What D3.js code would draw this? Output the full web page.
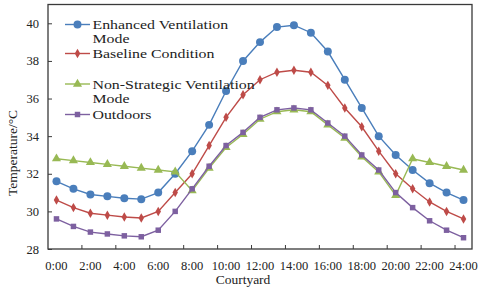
<!DOCTYPE html>
<html><head><meta charset="utf-8">
<script src="https://cdn.jsdelivr.net/npm/d3@7"></script>
<style>body{margin:0;background:#fff}svg{display:block}</style>
</head><body><svg id="c" width="480" height="289"></svg>
<script>
const hours = ["0:00","1:00","2:00","3:00","4:00","5:00","6:00","7:00","8:00","9:00","10:00","11:00","12:00","13:00","14:00","15:00","16:00","17:00","18:00","19:00","20:00","21:00","22:00","23:00","24:00"];
const enhanced = [31.6,31.2,30.9,30.8,30.7,30.65,31.0,32.0,33.2,34.6,36.4,38.0,39.0,39.8,39.9,39.5,38.5,37.0,35.5,34.0,33.0,32.2,31.5,31.0,30.6];
const baseline = [30.6,30.2,29.9,29.8,29.7,29.65,30.0,31.0,32.0,33.5,35.0,36.2,37.0,37.4,37.5,37.4,36.7,35.5,34.5,33.2,32.0,31.2,30.5,30.0,29.6];
const nonStrategic = [32.8,32.7,32.6,32.5,32.4,32.3,32.2,32.1,31.1,32.3,33.4,34.1,34.9,35.3,35.4,35.3,34.6,33.9,32.9,32.1,30.85,32.8,32.6,32.4,32.2];
const outdoors = [29.6,29.2,28.9,28.8,28.7,28.65,29.0,30.0,31.2,32.4,33.5,34.2,35.0,35.4,35.5,35.4,34.7,34.0,33.0,32.2,31.0,30.2,29.5,29.0,28.6];
const yTicks = [28,30,32,34,36,38,40];
const seriesNames = ["Enhanced Ventilation|Mode","Baseline Condition","Non-Strategic Ventilation|Mode","Outdoors"];

const L=48,R=472,T=4.5,B=249;
const svg=d3.select("#c");
const font="Liberation Serif, Times New Roman, serif";
const x=d3.scaleBand().domain(hours).range([L,R]).padding(0);
const y=d3.scaleLinear().domain([28,41]).range([B,T]);
const cx=h=>x(h)+x.bandwidth()/2;

// frame
svg.append("rect").attr("x",L).attr("y",T).attr("width",R-L).attr("height",B-T)
  .attr("fill","none").attr("stroke","#3a3a3a").attr("stroke-width",1.3);

// y axis
const gy=svg.append("g").attr("transform",`translate(${L},0)`)
  .call(d3.axisLeft(y).tickValues(yTicks).tickSizeInner(-4).tickSizeOuter(0).tickPadding(9).tickFormat(d3.format("d")));
gy.select(".domain").remove();
gy.selectAll("line").attr("stroke","#3a3a3a").attr("stroke-width",1);
gy.selectAll("text").attr("font-family",font).attr("font-size",12.5).attr("fill","#222");

// x axis labels
const labelHours=hours.filter((d,i)=>i%2===0);
const gx=svg.append("g").attr("transform",`translate(0,${B})`)
  .call(d3.axisBottom(x).tickValues(labelHours).tickSize(0).tickPadding(12));
gx.select(".domain").remove();
gx.selectAll("text").attr("font-family",font).attr("font-size",12.5).attr("fill","#222");
// x tick marks at band boundaries (inward)
svg.append("g").selectAll("line").data(labelHours.slice(1)).join("line")
  .attr("x1",d=>x(d)).attr("x2",d=>x(d)).attr("y1",B).attr("y2",B-4)
  .attr("stroke","#3a3a3a").attr("stroke-width",1);

// axis titles
svg.append("text").attr("x",243).attr("y",284).attr("text-anchor","middle")
  .attr("font-family",font).attr("font-size",13.5).attr("fill","#222").text("Courtyard");
svg.append("text").attr("transform","translate(17,153) rotate(-90)").attr("text-anchor","middle")
  .attr("font-family",font).attr("font-size",13.5).attr("fill","#222").text("Temperature/°C");

const colors=["#4a7ebb","#be4b48","#98b954","#7d60a0"];
const data=[enhanced,baseline,nonStrategic,outdoors];
const shapes=[d3.symbolCircle,d3.symbolDiamond,d3.symbolTriangle,d3.symbolSquare];
const sizes=[50,26,36,30];
const line=d3.line().x((d,i)=>cx(hours[i])).y(d=>y(d));

data.forEach((vals,k)=>{
  const g=svg.append("g");
  g.append("path").attr("d",line(vals)).attr("fill","none").attr("stroke",colors[k]).attr("stroke-width",1.4);
  g.selectAll("path.m").data(vals).join("path").attr("class","m")
    .attr("transform",(d,i)=>`translate(${cx(hours[i])},${y(d)})`)
    .attr("d",d3.symbol().type(shapes[k]).size(sizes[k])).attr("fill",colors[k]);
});

// legend
const legY=[24.5,53.5,84,114.5];
seriesNames.forEach((name,k)=>{
  const g=svg.append("g");
  g.append("line").attr("x1",65).attr("x2",90).attr("y1",legY[k]).attr("y2",legY[k]).attr("stroke",colors[k]).attr("stroke-width",1.4);
  g.append("path").attr("transform",`translate(77.5,${legY[k]})`).attr("d",d3.symbol().type(shapes[k]).size(sizes[k])).attr("fill",colors[k]);
  name.split("|").forEach((ln,j)=>{
    g.append("text").attr("transform",`translate(92.5,${legY[k]+4.5+j*14}) scale(1.27,1)`)
      .attr("font-family",font).attr("font-size",12.5).attr("fill","#222").text(ln);
  });
});
</script></body></html>
